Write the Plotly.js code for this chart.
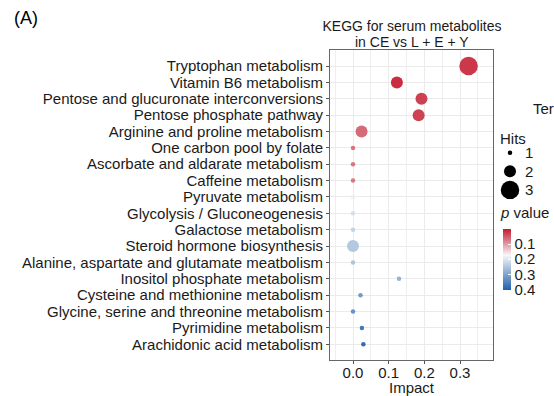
<!DOCTYPE html>
<html>
<head>
<meta charset="utf-8">
<script src="https://cdn.plot.ly/plotly-3.0.1.min.js"></script>
<style>html,body{margin:0;padding:0;background:#fff;}#chart{width:554px;height:396px;}</style>
</head>
<body>
<div id="chart"></div>
<script>
// ---- data ----
const pathways = [
  "Tryptophan metabolism",
  "Vitamin B6 metabolism",
  "Pentose and glucuronate interconversions",
  "Pentose phosphate pathway",
  "Arginine and proline metabolism",
  "One carbon pool by folate",
  "Ascorbate and aldarate metabolism",
  "Caffeine metabolism",
  "Pyruvate metabolism",
  "Glycolysis / Gluconeogenesis",
  "Galactose metabolism",
  "Steroid hormone biosynthesis",
  "Alanine, aspartate and glutamate meatbolism",
  "Inositol phosphate metabolism",
  "Cysteine and methionine metabolism",
  "Glycine, serine and threonine metabolism",
  "Pyrimidine metabolism",
  "Arachidonic acid metabolism"
];
const impact = [0.324, 0.123, 0.192, 0.184, 0.024, 0, 0, 0, 0, 0, 0, 0, 0, 0.129, 0.021, 0, 0.025, 0.029];
const hits   = [3, 2, 2, 2, 2, 1, 1, 1, 1, 1, 1, 2, 1, 1, 1, 1, 1, 1];
const pValue = [0.012, 0.003, 0.02, 0.022, 0.055, 0.065, 0.066, 0.068, 0.19, 0.215, 0.235, 0.255, 0.26, 0.29, 0.33, 0.34, 0.385, 0.405];
const hitsLegend = [1, 2, 3];
const pTicks = [0.1, 0.2, 0.3, 0.4];
const xTicks = [0, 0.1, 0.2, 0.3];

// ---- styling helpers ----
const FONT = '"Liberation Sans", Arial, Helvetica, sans-serif';
const TXT = '#1a1a1a';
const sizeOf = h => ({1: 4.5, 2: 12, 3: 18.5})[h];
// colour bar in the reference runs from low p (red) at top to high p (blue) at bottom,
// so the colour is driven by -p and the tick labels show p
const colorscale = [[0, '#1F62AB'], [0.57, '#F7F7F7'], [1, '#C51B2F']];

const W = 554, H = 396, L = 330, T = 50, B = 36;
const pw = W - L, ph = H - T - B;
const px = v => (v - L) / pw;          // pixel x -> paper x
const py = v => (H - B - v) / ph;      // pixel y -> paper y

const main = {
  type: 'scatter', mode: 'markers',
  x: impact, y: pathways, xaxis: 'x', yaxis: 'y',
  marker: {
    size: hits.map(sizeOf), color: pValue.map(v => -v), colorscale: colorscale,
    opacity: 0.92, line: {width: 0},
    colorbar: {
      x: px(503), xanchor: 'left', xpad: 0,
      y: py(259.8), yanchor: 'middle', ypad: 0,
      len: 61, lenmode: 'pixels', thickness: 8, outlinewidth: 0,
      tickmode: 'array',
      tickvals: pTicks.map(v => -v), ticktext: pTicks.map(v => v.toFixed(1)),
      ticks: 'inside', ticklen: 3, tickcolor: '#ffffff',
      tickfont: {family: FONT, size: 15, color: TXT}
    }
  },
  hoverinfo: 'x+y', showlegend: false
};

const sizeLegend = {
  type: 'scatter', mode: 'markers',
  x: hitsLegend.map(() => 0.5), y: hitsLegend, xaxis: 'x2', yaxis: 'y2',
  marker: {size: hitsLegend.map(sizeOf), color: '#000000', opacity: 1, line: {width: 0}},
  hoverinfo: 'skip', showlegend: false
};

const annotations = [
  {text: 'in CE vs L + E + Y', xref: 'paper', yref: 'paper', x: px(412), y: py(41.5), xanchor: 'center', yanchor: 'middle', showarrow: false, font: {family: FONT, size: 14, color: TXT}},
  {text: '(A)', xref: 'paper', yref: 'paper', x: px(12), y: py(18), xanchor: 'left', yanchor: 'middle', showarrow: false, font: {family: FONT, size: 18, color: '#000'}},
  {text: 'Ter', xref: 'paper', yref: 'paper', x: px(531), y: py(108), xanchor: 'left', yanchor: 'middle', showarrow: false, font: {family: FONT, size: 15, color: TXT}},
  {text: 'Hits', xref: 'paper', yref: 'paper', x: px(498), y: py(138), xanchor: 'left', yanchor: 'middle', showarrow: false, font: {family: FONT, size: 15, color: TXT}},
  {text: '<i>p</i> value', xref: 'paper', yref: 'paper', x: px(498), y: py(212), xanchor: 'left', yanchor: 'middle', showarrow: false, font: {family: FONT, size: 15, color: TXT}}
].concat(hitsLegend.map(h => ({
  text: String(h), xref: 'x2', yref: 'y2', x: 1.15, y: h, xanchor: 'left', yanchor: 'middle',
  showarrow: false, font: {family: FONT, size: 15, color: TXT}
})));

const hiddenAxis = {
  showgrid: false, zeroline: false, showline: false, showticklabels: false, ticks: '', fixedrange: true
};

const layout = {
  width: W, height: H,
  margin: {l: L, r: 0, t: T, b: B, pad: 0},
  paper_bgcolor: '#ffffff', plot_bgcolor: '#ffffff',
  font: {family: FONT, size: 15, color: TXT},
  title: {
    text: 'KEGG for serum metabolites',
    font: {family: FONT, size: 14, color: TXT},
    xref: 'paper', x: px(412), xanchor: 'center',
    yref: 'container', y: 1 - 26.5 / H, yanchor: 'middle'
  },
  xaxis: {
    domain: [0, px(493)], range: [-0.0645, 0.3925],
    tickmode: 'array', tickvals: xTicks, ticktext: xTicks.map(v => v.toFixed(1)),
    ticks: 'outside', ticklen: 3, tickcolor: '#555', tickwidth: 1,
    ticklabelstandoff: -4,
    tickfont: {family: FONT, size: 15, color: TXT},
    showgrid: true, gridcolor: '#EBEBEB', gridwidth: 1,
    minor: {dtick: 0.05, tick0: 0, showgrid: true, gridcolor: '#EFEFEF', gridwidth: 1, ticks: ''},
    zeroline: false, showline: true, mirror: true, linecolor: '#666', linewidth: 1,
    title: {text: 'Impact', font: {family: FONT, size: 15, color: TXT}, standoff: 0}
  },
  yaxis: {
    type: 'category', categoryorder: 'array', categoryarray: pathways,
    range: [17.96, -0.98],
    tickmode: 'linear', tick0: 0, dtick: 1,
    ticks: 'outside', ticklen: 3, tickcolor: '#555', tickwidth: 1,
    tickfont: {family: FONT, size: 15, color: TXT},
    showgrid: true, gridcolor: '#EBEBEB', gridwidth: 1,
    zeroline: false, showline: true, mirror: true, linecolor: '#666', linewidth: 1
  },
  xaxis2: Object.assign({domain: [px(500), px(540)], range: [0, 2], anchor: 'y2'}, hiddenAxis),
  yaxis2: Object.assign({domain: [py(199.3), py(143.4)], range: [3.5, 0.5], anchor: 'x2'}, hiddenAxis),
  annotations: annotations
};

Plotly.newPlot('chart', [main, sizeLegend], layout, {displayModeBar: false, staticPlot: true});
</script>
</body>
</html>
